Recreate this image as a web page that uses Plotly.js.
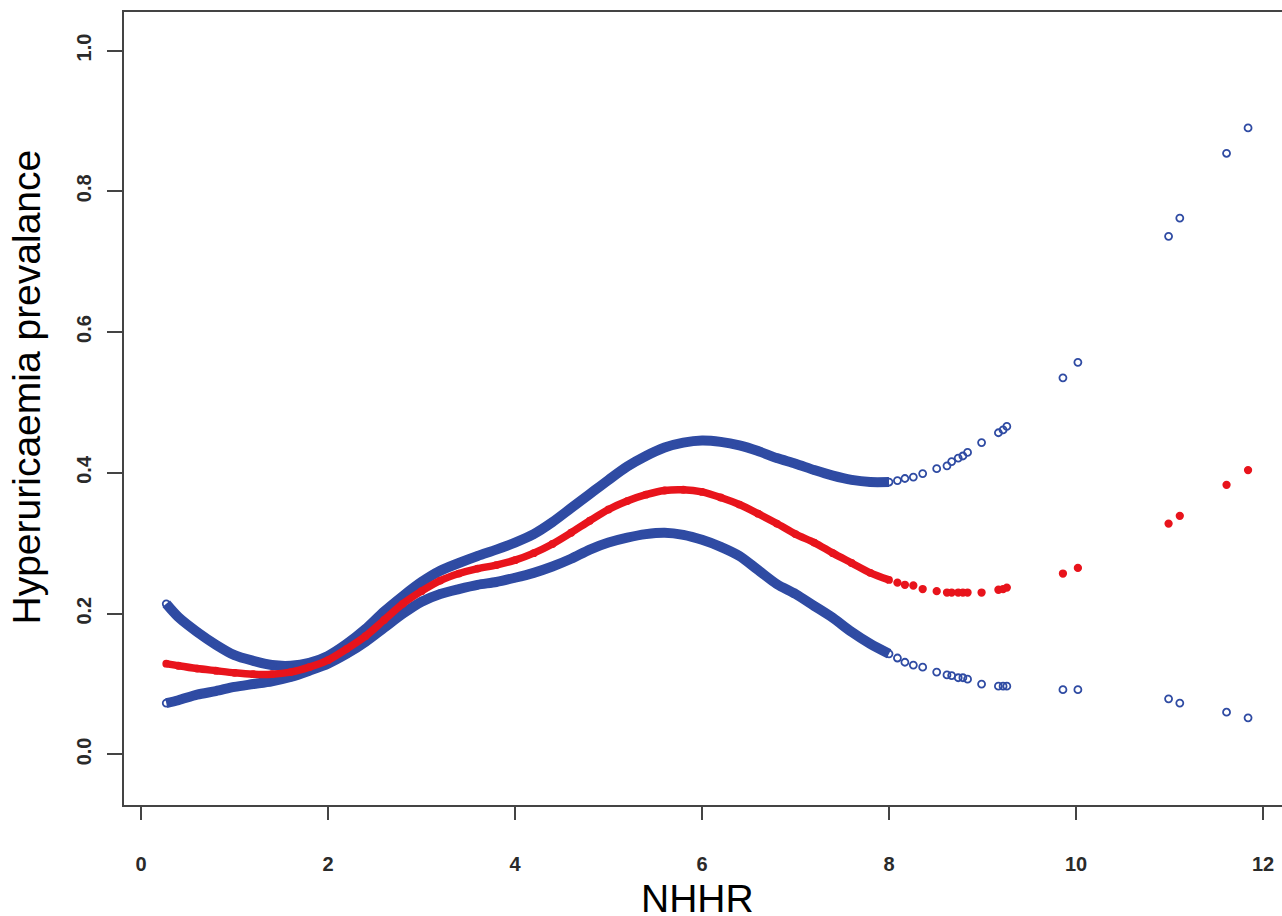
<!DOCTYPE html>
<html>
<head>
<meta charset="utf-8">
<script src="https://cdn.plot.ly/plotly-3.0.1.min.js"></script>
<style>html,body{margin:0;padding:0;background:#fff;overflow:hidden}</style>
</head>
<body>
<div id="chart" style="width:1282px;height:916px"></div>
<script>
// Dense part of the curves (NHHR values)
const xDense = [0.27,0.4,0.6,0.8,1.0,1.2,1.4,1.6,1.8,2.0,
                2.2,2.4,2.6,2.8,3.0,3.2,3.4,3.6,3.8,4.0,
                4.2,4.4,4.6,4.8,5.0,5.2,5.4,5.6,5.8,6.0,
                6.2,6.4,6.6,6.8,7.0,7.2,7.4,7.6,7.8,8.0];
const upperDense = [0.214,0.195,0.174,0.156,0.141,0.133,0.127,0.126,0.130,0.140,
                    0.157,0.178,0.203,0.225,0.245,0.261,0.272,0.282,0.291,0.301,
                    0.313,0.330,0.350,0.370,0.390,0.409,0.424,0.436,0.443,0.446,
                    0.444,0.439,0.431,0.421,0.413,0.404,0.396,0.390,0.387,0.387];
const fitDense = [0.129,0.126,0.122,0.119,0.116,0.114,0.114,0.117,0.124,0.134,
                  0.150,0.168,0.191,0.214,0.232,0.247,0.257,0.264,0.269,0.276,
                  0.286,0.299,0.315,0.332,0.348,0.360,0.369,0.375,0.376,0.373,
                  0.365,0.355,0.342,0.328,0.313,0.301,0.286,0.272,0.258,0.248];
const lowerDense = [0.073,0.077,0.085,0.090,0.096,0.100,0.104,0.110,0.119,0.129,
                    0.143,0.160,0.180,0.200,0.217,0.228,0.235,0.241,0.245,0.251,
                    0.258,0.267,0.278,0.291,0.301,0.308,0.313,0.315,0.312,0.305,
                    0.295,0.282,0.262,0.242,0.228,0.211,0.194,0.174,0.157,0.143];

// Sparse (individually visible) observations
const xSparse = [8.09,8.17,8.26,8.36,8.51,8.62,8.67,8.74,8.79,8.84,
                 8.99,9.17,9.22,9.26,9.86,10.02,10.99,11.11,11.61,11.84];
const upperSparse = [0.389,0.392,0.394,0.399,0.406,0.410,0.416,0.421,0.424,0.429,
                     0.443,0.457,0.461,0.466,0.535,0.557,0.736,0.762,0.854,0.890];
const fitSparse = [0.244,0.241,0.240,0.235,0.232,0.230,0.230,0.230,0.230,0.230,
                   0.230,0.234,0.235,0.237,0.257,0.265,0.328,0.339,0.383,0.404];
const lowerSparse = [0.137,0.131,0.127,0.124,0.117,0.113,0.112,0.109,0.109,0.107,
                     0.100,0.097,0.097,0.097,0.092,0.092,0.079,0.073,0.060,0.052];

const xTicks = [0,2,4,6,8,10,12];
const yTicks = [0,0.2,0.4,0.6,0.8,1.0];
const yTickText = ['0.0','0.2','0.4','0.6','0.8','1.0'];
const xTitle = 'NHHR';
const yTitle = 'Hyperuricaemia prevalance';

const BLUE = '#2F4BA3';
const RED = '#E8141C';

function denseTrace(y, color, lw, sym, ms) {
  return {x: xDense, y: y, type: 'scatter', mode: 'lines+markers',
    line: {color: color, width: lw, shape: 'spline', smoothing: 0.8},
    marker: {symbol: sym, size: ms, color: color, line: {color: color, width: 1.8}},
    hoverinfo: 'x+y', showlegend: false};
}
function sparseTrace(y, color, sym, ms) {
  return {x: xSparse, y: y, type: 'scatter', mode: 'markers',
    marker: {symbol: sym, size: ms, color: color, line: {color: color, width: 1.8}},
    hoverinfo: 'x+y', showlegend: false};
}

const data = [
  denseTrace(upperDense, BLUE, 10, 'circle-open', 7),
  sparseTrace(upperSparse, BLUE, 'circle-open', 7),
  denseTrace(lowerDense, BLUE, 10, 'circle-open', 7),
  sparseTrace(lowerSparse, BLUE, 'circle-open', 7),
  denseTrace(fitDense, RED, 7.5, 'circle', 6),
  sparseTrace(fitSparse, RED, 'circle', 6.5)
];

const tickFont = {family: 'Liberation Sans, Arial, sans-serif', size: 20, color: '#2a2a2a', weight: 'bold'};
const titleFont = {family: 'Liberation Sans, Arial, sans-serif', size: 39, color: '#000'};

const layout = {
  width: 1282, height: 916,
  margin: {l: 124, r: 0, t: 12, b: 111, pad: 0},
  paper_bgcolor: '#fff', plot_bgcolor: '#fff',
  showlegend: false,
  xaxis: {
    range: [-0.182, 12.203], tickmode: 'array', tickvals: xTicks,
    ticks: 'outside', ticklen: 13, tickwidth: 2, tickcolor: '#444',
    showline: true, linecolor: '#444', linewidth: 2, mirror: true,
    showgrid: false, zeroline: false, tickfont: tickFont, ticklabelstandoff: 27
  },
  yaxis: {
    range: [-0.0718, 1.0547], tickmode: 'array', tickvals: yTicks, ticktext: yTickText,
    tickangle: -90,
    ticks: 'outside', ticklen: 15, tickwidth: 2, tickcolor: '#444',
    showline: true, linecolor: '#444', linewidth: 2, mirror: false,
    showgrid: false, zeroline: false, tickfont: tickFont, ticklabelstandoff: 8
  },
  annotations: [
    {text: xTitle, xref: 'paper', yref: 'paper', x: 0.4953, y: -0.1185,
     xanchor: 'center', yanchor: 'middle', showarrow: false, font: titleFont},
    {text: yTitle, xref: 'paper', yref: 'paper', x: -0.0838, y: 0.5277, textangle: -90,
     xanchor: 'center', yanchor: 'middle', showarrow: false, font: titleFont}
  ]
};

Plotly.newPlot('chart', data, layout, {displayModeBar: false, staticPlot: true});
</script>
</body>
</html>
